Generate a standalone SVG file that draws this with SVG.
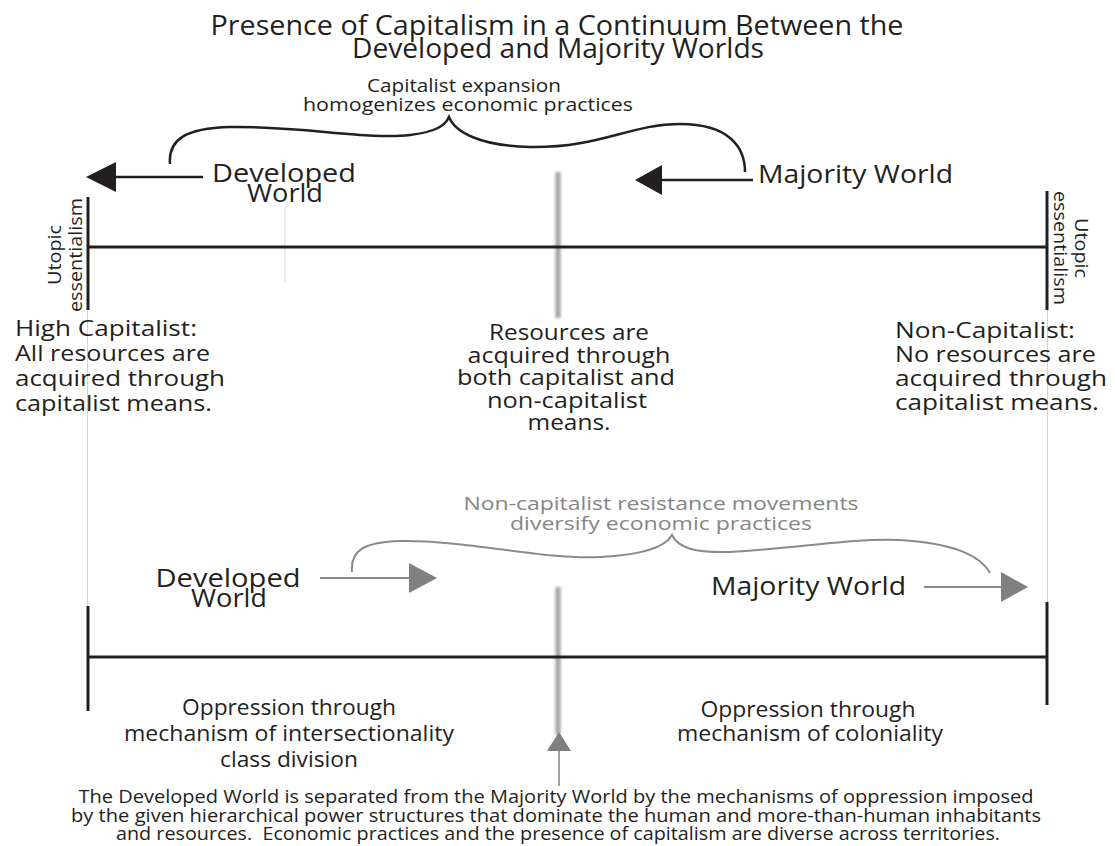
<svg xmlns="http://www.w3.org/2000/svg" width="1115" height="846" viewBox="0 0 1115 846">
<style>
text{font-family:"Open Sans","Noto Sans","Liberation Sans",sans-serif;fill:#231f20}
.t{font-size:27px}
.s{font-size:18.5px}
.n{font-size:25px}
.b{font-size:22.5px}
.g{fill:#858585}
.f{font-size:18px}
.ax{stroke:#231f20;stroke-width:3;fill:none}
.faint{stroke:#d4d4d4;stroke-width:1;fill:none}
.blk{stroke:#231f20;stroke-width:2.5;fill:none}
.gl{stroke:#8a8a8a;stroke-width:2;fill:none}
</style>
<defs>
<filter id="blur" x="-2" y="-0.2" width="5" height="1.4"><feGaussianBlur stdDeviation="1.8"/></filter>
</defs>
<rect width="1115" height="846" fill="#fff"/>

<g id="title">
<text class="t" x="557" y="35" text-anchor="middle" textLength="693" lengthAdjust="spacingAndGlyphs">Presence of Capitalism in a Continuum Between the</text>
<text class="t" x="558" y="58" text-anchor="middle" textLength="412" lengthAdjust="spacingAndGlyphs">Developed and Majority Worlds</text>
</g>

<g id="top-brace-label">
<text class="s" x="464" y="92" text-anchor="middle" textLength="194" lengthAdjust="spacingAndGlyphs">Capitalist expansion</text>
<text class="s" x="468" y="111" text-anchor="middle" textLength="330" lengthAdjust="spacingAndGlyphs">homogenizes economic practices</text>
</g>

<g id="gray-bars">
<rect x="555.5" y="172" width="5" height="146" fill="#a0a0a0" filter="url(#blur)"/>
<rect x="555.5" y="587" width="5" height="148" fill="#a0a0a0" filter="url(#blur)"/>
</g>

<g id="connectors">
<path class="blk" d="M170,164 C168,140 185,128 230,127 C300,126 370,140 410,135 C435,132 445,126 449,117 C455,132 480,146 530,147 C600,148 630,124 680,124 C730,124 745,148 745,172"/>
<line class="blk" x1="112" y1="177" x2="203" y2="177"/>
<polygon points="86,177 116,162 116,192" fill="#231f20"/>
<line class="blk" x1="660" y1="180" x2="753" y2="180"/>
<polygon points="635,180 662,165 662,195" fill="#231f20"/>

<line class="faint" x1="285" y1="206" x2="285" y2="282"/>
<line class="faint" x1="87.5" y1="308" x2="87.5" y2="606"/>
<line class="faint" x1="1047.5" y1="308" x2="1047.5" y2="603"/>

<line class="ax" x1="88" y1="247" x2="1047" y2="247"/>
<line class="ax" x1="88" y1="197" x2="88" y2="310"/>
<line class="ax" x1="1047" y1="191" x2="1047" y2="310"/>

<path class="gl" d="M352,572 C350,550 365,542 400,541 C470,540 540,560 600,557 C640,555 665,548 672,535 C678,548 695,553 730,552 C800,548 850,538 900,540 C950,543 980,555 990,573"/>
<line class="gl" x1="320" y1="578" x2="412" y2="578"/>
<polygon points="437,578 409,563 409,593" fill="#808080"/>
<line class="gl" x1="924" y1="587" x2="1003" y2="587"/>
<polygon points="1028,587 1001,572 1001,602" fill="#808080"/>

<line class="ax" x1="88" y1="657" x2="1047" y2="657"/>
<line class="ax" x1="88" y1="606" x2="88" y2="711"/>
<line class="ax" x1="1047" y1="602" x2="1047" y2="705"/>

<line x1="559" y1="748" x2="559" y2="786" stroke="#8a8a8a" stroke-width="1.6"/>
<polygon points="559,732 547,751 571,751" fill="#808080"/>
</g>

<g id="developed-top">
<text class="n" x="284" y="182" text-anchor="middle" textLength="144" lengthAdjust="spacingAndGlyphs">Developed</text>
<text class="n" x="285" y="202" text-anchor="middle" textLength="76" lengthAdjust="spacingAndGlyphs">World</text>
</g>
<g id="majority-top">
<text class="n" x="758" y="183" textLength="195" lengthAdjust="spacingAndGlyphs">Majority World</text>
</g>

<g id="utopic-left">
<text class="s" transform="translate(61,255) rotate(-90)" text-anchor="middle" textLength="60" lengthAdjust="spacingAndGlyphs">Utopic</text>
<text class="s" transform="translate(82,255) rotate(-90)" text-anchor="middle" textLength="114" lengthAdjust="spacingAndGlyphs">essentialism</text>
</g>
<g id="utopic-right">
<text class="s" transform="translate(1075,248) rotate(90)" text-anchor="middle" textLength="60" lengthAdjust="spacingAndGlyphs">Utopic</text>
<text class="s" transform="translate(1054,248) rotate(90)" text-anchor="middle" textLength="114" lengthAdjust="spacingAndGlyphs">essentialism</text>
</g>

<g id="high-capitalist">
<text class="b" x="15" y="336" textLength="182" lengthAdjust="spacingAndGlyphs">High Capitalist:</text>
<text class="b" x="15" y="361" textLength="195" lengthAdjust="spacingAndGlyphs">All resources are</text>
<text class="b" x="15" y="386" textLength="210" lengthAdjust="spacingAndGlyphs">acquired through</text>
<text class="b" x="15" y="411" textLength="197" lengthAdjust="spacingAndGlyphs">capitalist means.</text>
</g>

<g id="middle">
<text class="b" x="569" y="340" text-anchor="middle" textLength="160" lengthAdjust="spacingAndGlyphs">Resources are</text>
<text class="b" x="569" y="362.5" text-anchor="middle" textLength="203" lengthAdjust="spacingAndGlyphs">acquired through</text>
<text class="b" x="566" y="385" text-anchor="middle" textLength="218" lengthAdjust="spacingAndGlyphs">both capitalist and</text>
<text class="b" x="567" y="407.5" text-anchor="middle" textLength="160" lengthAdjust="spacingAndGlyphs">non-capitalist</text>
<text class="b" x="569" y="430" text-anchor="middle" textLength="83" lengthAdjust="spacingAndGlyphs">means.</text>
</g>

<g id="non-capitalist">
<text class="b" x="895" y="338" textLength="180" lengthAdjust="spacingAndGlyphs">Non-Capitalist:</text>
<text class="b" x="895" y="362" textLength="201" lengthAdjust="spacingAndGlyphs">No resources are</text>
<text class="b" x="895" y="386" textLength="212" lengthAdjust="spacingAndGlyphs">acquired through</text>
<text class="b" x="895" y="410" textLength="204" lengthAdjust="spacingAndGlyphs">capitalist means.</text>
</g>

<g id="bottom-brace-label">
<text class="s g" x="661" y="510" text-anchor="middle" textLength="395" lengthAdjust="spacingAndGlyphs">Non-capitalist resistance movements</text>
<text class="s g" x="661" y="530" text-anchor="middle" textLength="302" lengthAdjust="spacingAndGlyphs">diversify economic practices</text>
</g>

<g id="developed-bottom">
<text class="n" x="228" y="587" text-anchor="middle" textLength="145" lengthAdjust="spacingAndGlyphs">Developed</text>
<text class="n" x="229" y="607" text-anchor="middle" textLength="76" lengthAdjust="spacingAndGlyphs">World</text>
</g>
<g id="majority-bottom">
<text class="n" x="711" y="595" textLength="195" lengthAdjust="spacingAndGlyphs">Majority World</text>
</g>

<g id="oppression-left">
<text class="b" x="289" y="715" text-anchor="middle" textLength="214" lengthAdjust="spacingAndGlyphs">Oppression through</text>
<text class="b" x="289" y="741" text-anchor="middle" textLength="330" lengthAdjust="spacingAndGlyphs">mechanism of intersectionality</text>
<text class="b" x="289" y="767" text-anchor="middle" textLength="138" lengthAdjust="spacingAndGlyphs">class division</text>
</g>
<g id="oppression-right">
<text class="b" x="808" y="717" text-anchor="middle" textLength="215" lengthAdjust="spacingAndGlyphs">Oppression through</text>
<text class="b" x="810" y="741" text-anchor="middle" textLength="266" lengthAdjust="spacingAndGlyphs">mechanism of coloniality</text>
</g>

<g id="footer">
<text class="f" x="556" y="803" text-anchor="middle" textLength="955" lengthAdjust="spacingAndGlyphs">The Developed World is separated from the Majority World by the mechanisms of oppression imposed</text>
<text class="f" x="556" y="822" text-anchor="middle" textLength="970" lengthAdjust="spacingAndGlyphs">by the given hierarchical power structures that dominate the human and more-than-human inhabitants</text>
<text class="f" x="558" y="840" text-anchor="middle" textLength="884" lengthAdjust="spacingAndGlyphs" xml:space="preserve">and resources.  Economic practices and the presence of capitalism are diverse across territories.</text>
</g>
</svg>
